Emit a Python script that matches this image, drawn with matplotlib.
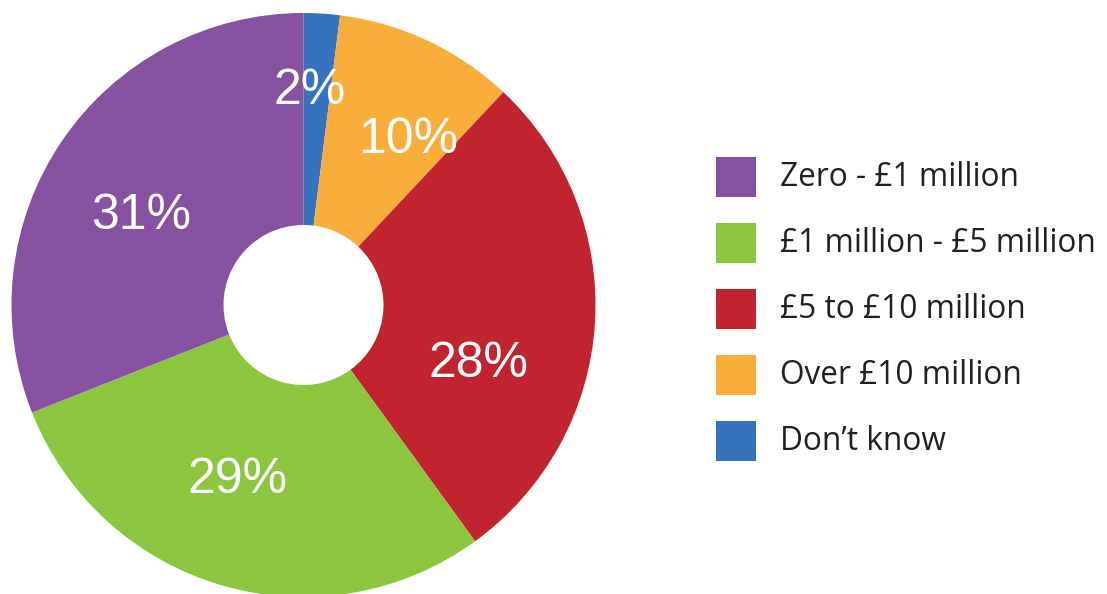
import matplotlib
matplotlib.use("Agg")
import matplotlib.pyplot as plt
import matplotlib.transforms as mtransforms
from matplotlib.patches import Rectangle
import numpy as np

# Data (clockwise from 12 o'clock)
categories = ["Don\u2019t know", "Over \u00a310 million", "\u00a35 to \u00a310 million",
              "\u00a31 million - \u00a35 million", "Zero - \u00a31 million"]
values = [2, 10, 28, 29, 31]
colors = ["#3574BC", "#F9AE3B", "#C1232F", "#8CC63F", "#8651A1"]

# Legend order
legend_order = ["Zero - \u00a31 million", "\u00a31 million - \u00a35 million",
                "\u00a35 to \u00a310 million", "Over \u00a310 million", "Don\u2019t know"]

# Label placement (angle in degrees, radius fraction) per slice
label_angles = [88.3, 58.0, -17.6, -111.0, 150.4]
label_radii = [0.745, 0.68, 0.63, 0.63, 0.64]

W, H = 1107, 594
fig = plt.figure(figsize=(W / 100, H / 100), dpi=100)

R = 292.0
cx, cy = 303.5, 305.0
ax = fig.add_axes([(cx - R) / W, (H - cy - R) / H, 2 * R / W, 2 * R / H])
ax.pie(values, colors=colors, startangle=90, counterclock=False, radius=1.0,
       wedgeprops=dict(width=1.0 - 0.274, linewidth=0))
ax.set_xlim(-1, 1)
ax.set_ylim(-1, 1)
ax.axis("off")

lbl_trans = mtransforms.offset_copy(ax.transData, fig=fig, x=0, y=-3, units="dots")
for v, a, r in zip(values, label_angles, label_radii):
    t = np.deg2rad(a)
    ax.text(r * np.cos(t), r * np.sin(t), f"{v}%", color="white",
            fontsize=36, family="Liberation Sans", ha="center", va="center",
            transform=lbl_trans)

# Legend
color_map = dict(zip(categories, colors))
sq = 40
x0 = 716
y0 = 157
step = 66
for i, name in enumerate(legend_order):
    top = y0 + i * step
    fig.patches.append(Rectangle((x0 / W, (H - top - sq) / H), sq / W, sq / H,
                                 transform=fig.transFigure, facecolor=color_map[name],
                                 edgecolor="none"))
    fig.text(780 / W, (H - top - sq / 2 - 1) / H, name, fontsize=22.8, family="Open Sans",
             color="#231F20", ha="left", va="center")

fig.savefig("out.png", dpi=100)
